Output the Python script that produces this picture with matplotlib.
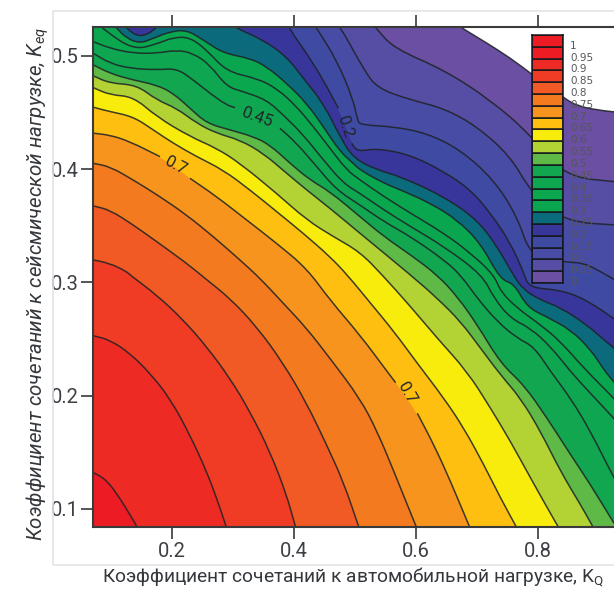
import numpy as np
import matplotlib
matplotlib.use("Agg")
import matplotlib.pyplot as plt
from matplotlib.patches import PathPatch, Rectangle
from matplotlib.path import Path

nan = float("nan")

# contour lines as (K_Q, K_eq), nan = gap for an inline label
k000 = [(.665,.529),(.676,.5244),(.717,.5112),(.755,.498),(.788,.4847),(.843,.4626),(.865,.4559),(.897,.4523),(.936,.450)]
k005 = [(.528,.529),(.537,.523),(.564,.5068),(.646,.4877),(.722,.4612),(.788,.4303),(.843,.3935),(.936,.3885)]
k010 = [(.4754,.5244),(.482,.52),(.5148,.4877),(.5366,.4715),(.5913,.4612),(.646,.4538),(.7006,.4376),(.7552,.4111),(.788,.3802),(.8426,.3537),(.9356,.3505)]
k015 = [(.4317,.5289),(.4372,.5244),(.47,.4965),(.4973,.4612),(.5039,.4435),(.5093,.4391),(.564,.4376),(.6186,.4317),(.6733,.417),(.7279,.3905),(.7661,.3581),(.788,.3228),(.843,.3181),(.8754,.3172),(.9028,.3096),(.9356,.2993)]
k020 = [(.3907,.5289),(.3935,.523),(.4208,.5024),(.4481,.4788),(.4727,.4538),(nan,nan),(.4946,.4229),(.5039,.4155),(.5366,.4185),(.5913,.4126),(.646,.3979),(.6897,.3817),(.7224,.3611),(.7552,.3346),(.7771,.3081),(.7853,.2954),(.8372,.2934),(.8804,.2845),(.9356,.2639)]
k025 = [(.3006,.5274),(.306,.5244),(.3498,.5141),(.388,.4994),(.4153,.4803),(.4481,.4582),(.4754,.4288),(.4973,.4097),(.5366,.3993),(.5749,.3935),(.646,.3758),(.7006,.3552),(.7334,.3316),(.7607,.3052),(.7771,.2933),(.8044,.2845),(.8372,.2778),(.8804,.2625),(.9082,.2492),(.9356,.2374)]
k025_blob = [(.123,.5274),(.1257,.5244),(.1421,.5177),(.1585,.5186),(.1733,.5244),(.1776,.5274)]
k030 = [(.105,.5274),(.1093,.5244),(.1257,.5156),(.1476,.5112),(.1694,.5156),(.1967,.5215),(.2241,.523),(.2514,.5141),(.2842,.5024),(.3279,.498),(.3552,.4906),(.388,.4759),(.4208,.4582),(.4481,.4376),(.4754,.4155),(.4973,.4052),(.5082,.3993),(.5476,.3876),(.5749,.3817),(.6241,.3699),(.6678,.3552),(.706,.3346),(.7388,.3022),(.7607,.2992),(.782,.2783),(.8148,.2695),(.8541,.258),(.8869,.2404),(.9082,.2227),(.9246,.2121),(.9356,.205)]
k035 = [(.082,.5274),(.0875,.5236),(.1366,.5053),(.1749,.5106),(.2022,.5165),(.2295,.5165),(.2569,.5053),(.2896,.4862),(.3388,.4803),(.3716,.4715),(.4044,.4553),(.4317,.4376),(.459,.4185),(.4863,.3994),(.5082,.3905),(.5476,.3758),(.5913,.3611),(.646,.3434),(.6897,.3258),(.7279,.3066),(.7388,.2919),(.7662,.2772),(.8044,.2625),(.8372,.2477),(.8754,.2242),(.9246,.1977),(.9356,.1903)]
k040 = [(.0656,.5136),(.071,.5127),(.0984,.5068),(.1366,.5024),(.1749,.5024),(.2077,.5053),(.235,.5024),(.2623,.4921),(.2896,.4729),(.317,.4685),(.3552,.4612),(.3825,.4479),(.4153,.4303),(.4481,.4082),(.4809,.3876),(.5082,.3787),(.5476,.364),(.5913,.3493),(.646,.3317),(.7088,.3066),(.7279,.286),(.7552,.2683),(.788,.2595),(.8208,.2433),(.8536,.2212),(.8809,.205),(.9246,.18),(.9356,.1727)]
k045 = [(.0656,.5038),(.071,.5024),(.0984,.4935),(.1312,.4891),(.1749,.4877),(.2077,.4891),(.235,.4788),(.2623,.467),(.2896,.4567),(.3033,.4544),(nan,nan),(.3771,.4361),(.4044,.4229),(.4372,.4023),(.47,.3817),(.5082,.3684),(.5476,.3537),(.5913,.3405),(.646,.3199),(.6733,.3066),(.7006,.286),(.7334,.2654),(.7662,.2507),(.7935,.2433),(.8208,.2212),(.8536,.1977),(.8864,.1683),(.9246,.1271),(.9356,.1182)]
k050 = [(.0656,.4935),(.071,.4921),(.0984,.4847),(.1312,.4794),(.1749,.4744),(.2022,.467),(.2295,.4538),(.2569,.4406),(.2951,.4347),(.3334,.4288),(.3607,.4214),(.3935,.4052),(.4263,.3905),(.459,.3802),(.5082,.3581),(.5476,.3405),(.5913,.3243),(.635,.3066),(.6678,.2875),(.7006,.2625),(.7388,.2286),(.777,.2095),(.8153,.18),(.8536,.1477),(.8864,.1212),(.9246,.0873),(.9356,.0785)]
k055 = [(.0656,.4838),(.071,.4824),(.0984,.4759),(.1421,.4744),(.1749,.4612),(.2077,.4538),(.2405,.4406),(.2733,.4317),(.3115,.4258),(.3498,.414),(.388,.3964),(.4208,.3817),(.459,.3655),(.5082,.3434),(.5913,.3066),(.635,.286),(.6733,.2654),(.706,.2418),(.7388,.2183),(.7716,.1977),(.8044,.1683),(.8372,.1329),(.87,.1035),(.8891,.0853),(.9028,.0711)]
k060 = [(.0656,.4735),(.071,.472),(.0984,.4656),(.1366,.4641),(.1749,.4464),(.2295,.4288),(.2733,.4185),(.3115,.4052),(.3716,.3787),(.4208,.3552),(.4645,.3405),(.5082,.3269),(.5448,.3066),(.5913,.2786),(.635,.2507),(.6842,.2212),(.7224,.1889),(.7552,.1594),(.788,.1271),(.8317,.0853),(.8481,.0711)]
k065 = [(.0656,.4559),(.071,.4547),(.0984,.4509),(.1366,.4464),(.1694,.4347),(.2022,.4229),(.2405,.4111),(.2842,.3993),(.3279,.3817),(.3716,.3626),(.4153,.3434),(.459,.3228),(.4875,.3066),(.5257,.2816),(.564,.2566),(.6022,.2286),(.6459,.1977),(.6787,.1712),(.7115,.1388),(.7388,.1094),(.7634,.0853),(.7771,.0711)]
k070 = [(.0656,.4329),(.071,.4317),(.0984,.4302),(.1312,.4244),(.1804,.4111),(nan,nan),(.2295,.392),(.2733,.3758),(.3224,.3552),(.3716,.3346),(.4208,.3125),(.459,.2845),(.5082,.2536),(.553,.2212),(.5667,.2115),(nan,nan),(.6022,.1845),(.6295,.1565),(.6569,.1241),(.6869,.0853),(.7006,.0682)]
k075 = [(.0656,.4058),(.071,.4052),(.0984,.4023),(.1366,.3905),(.1804,.3758),(.224,.3596),(.2678,.3405),(.3115,.3199),(.3443,.3037),(.3825,.2816),(.4208,.2595),(.459,.233),(.5082,.1977),(.5366,.1683),(.564,.1329),(.5995,.0853),(.6131,.0682)]
k080 = [(.0656,.3684),(.071,.3676),(.0984,.364),(.1366,.3508),(.1749,.3361),(.224,.317),(.254,.3037),(.2951,.286),(.3388,.261),(.3825,.2286),(.4208,.1933),(.4536,.1565),(.4809,.1241),(.5055,.0853),(.5164,.0682)]
k085 = [(.0656,.3205),(.0984,.3169),(.1257,.3096),(.1312,.3066),(.1749,.289),(.2186,.2669),(.2569,.2433),(.2951,.2154),(.3279,.1859),(.3607,.1506),(.388,.1123),(.4017,.0853),(.4126,.0682)]
k090 = [(.0656,.2536),(.071,.253),(.0984,.2492),(.1312,.2374),(.164,.2198),(.1967,.1977),(.2295,.1653),(.2569,.1329),(.2732,.1094),(.2885,.0853),(.2978,.0682)]
k095 = [(.0656,.1329),(.071,.1324),(.0929,.1256),(.1148,.1094),(.1312,.0947),(.142,.0853),(.1503,.0741)]

contour_lines = [k000, k005, k010, k015, k020, k025, k030, k035, k040, k045,
                 k050, k055, k060, k065, k070, k075, k080, k085, k090, k095]

band_colors = ["#6b4fa2", "#564da4", "#494ca5", "#3f4aa3", "#38359b", "#0b6a7c", "#0aa54f",
               "#0ba74f", "#0ea650", "#11a64f", "#5fb946", "#b3d234", "#f8ec0c", "#ffbf10",
               "#f7941e", "#f47a20", "#f15a24", "#f03b25", "#ee2a24", "#ed1c24"]
legend_labels = ["0", "0.05", "0.1", "0.15", "0.2", "0.25", "0.3", "0.35", "0.4", "0.45", "0.5",
                 "0.55", "0.6", "0.65", "0.7", "0.75", "0.8", "0.85", "0.9", "0.95", "1"]
legend_colors = band_colors + ["#ed1c24"]

x_ticks = [0.2, 0.4, 0.6, 0.8]
y_ticks = [0.1, 0.2, 0.3, 0.4, 0.5]

inline_labels = [("0.45", .3393, .4461, -20), ("0.7", .2049, .4037, -28),
                 ("0.2", .4836, .4373, -72), ("0.7", .5852, .2024, -60)]

W, H = 614, 590
plt.rcParams["font.family"] = ["Roboto", "DejaVu Sans"]
plt.rcParams["mathtext.default"] = "regular"


def curve(pts):
    # quadratic curve through the midpoints, so the read points are not drawn as corners
    verts, codes = [pts[0]], [Path.MOVETO]
    if len(pts) > 2:
        verts.append((pts[0] + pts[1]) / 2)
        codes.append(Path.LINETO)
        for i in range(1, len(pts) - 1):
            verts += [pts[i], (pts[i] + pts[i + 1]) / 2]
            codes += [Path.CURVE3, Path.CURVE3]
    verts.append(pts[-1])
    codes.append(Path.LINETO)
    return verts, codes


fig = plt.figure(figsize=(W / 100, H / 100), dpi=100, facecolor="white")
fig.add_artist(Rectangle((53 / W, 1 - 565 / H), 600 / W, 554 / H, transform=fig.transFigure,
                         facecolor="none", edgecolor="#e2e4e8", linewidth=1.2))

ax = fig.add_axes([93 / W, 1 - 527 / H, (W - 93) / W, 500 / H])
ax.set_xlim(0.0705, 0.9246)
ax.set_ylim(0.0841, 0.5256)
ax.patch.set_alpha(0)

LINE = "#1d2226"
XL, YL = 0.06, 0.06
for line, color in zip(contour_lines, band_colors):
    arr = np.array(line)
    pts = arr[~np.isnan(arr[:, 0])]
    verts, codes = curve(pts)
    verts += [(pts[-1, 0], YL), (XL, YL), (XL, pts[0, 1]), pts[0]]
    codes += [Path.LINETO] * 4
    ax.add_patch(PathPatch(Path(verts, codes), facecolor=color, edgecolor="none", zorder=2))
    if line is k025:
        verts, codes = curve(np.array(k025_blob))
        ax.add_patch(PathPatch(Path(verts, codes), facecolor=band_colors[4], edgecolor="none", zorder=2))

for line in contour_lines + [k025_blob]:
    arr = np.array(line)
    gaps = np.where(np.isnan(arr[:, 0]))[0]
    for seg in np.split(arr, gaps):
        seg = seg[~np.isnan(seg[:, 0])]
        verts, codes = curve(seg)
        ax.add_patch(PathPatch(Path(verts, codes), facecolor="none", edgecolor=LINE,
                               linewidth=1.1, alpha=0.85, zorder=3))

for text, x, y, rot in inline_labels:
    ax.text(x, y, text, rotation=rot, ha="center", va="center", fontsize=12,
            color="#22262a", zorder=4, rotation_mode="anchor")

ax.set_xticks(x_ticks)
ax.set_yticks(y_ticks)
ax.set_xticklabels([f"{v:.1f}" for v in x_ticks])
ax.set_yticklabels([f"{v:.1f}" for v in y_ticks])
ax.tick_params(axis="both", direction="out", length=8.5, width=1.4, color="#555555",
               labelsize=14.5, labelcolor="#3c4045", top=True, pad=2)
ax.tick_params(axis="x", pad=2)
for name in ["left", "bottom", "top"]:
    ax.spines[name].set_linewidth(1.5)
    ax.spines[name].set_color("#3a3a3a")
    ax.spines[name].set_zorder(5)
ax.spines["right"].set_visible(False)

# colour key sits on top of the field
cax = fig.add_axes([532 / W, 1 - 283 / H, 31 / W, 248 / H])
cax.bar(np.zeros(len(legend_colors)), np.ones(len(legend_colors)), width=1,
        bottom=np.arange(len(legend_colors)), color=legend_colors, edgecolor="#15181c", linewidth=1.1)
cax.set_xlim(-0.5, 0.5)
cax.set_ylim(0, len(legend_colors))
cax.set_xticks([])
cax.set_yticks(np.arange(len(legend_colors)) + 0.17)
cax.set_yticklabels(legend_labels, family="DejaVu Sans")
cax.yaxis.tick_right()
cax.tick_params(axis="y", length=0, pad=5, labelsize=7.5, labelcolor="#55575b")
for spine in cax.spines.values():
    spine.set_linewidth(1.1)
    spine.set_color("#15181c")

fig.text(353 / W, 1 - 577 / H, "Коэффициент сочетаний к автомобильной нагрузке, K$_{Q}$",
         ha="center", va="center", fontsize=13.8, color="#34383c")
fig.text(38 / W, 1 - 284 / H, "Коэффициент сочетаний к сейсмической нагрузке, K$_{eq}$",
         rotation=90, ha="center", va="center", fontsize=14.8, style="italic", color="#34383c")

fig.savefig("out.png", dpi=100)
